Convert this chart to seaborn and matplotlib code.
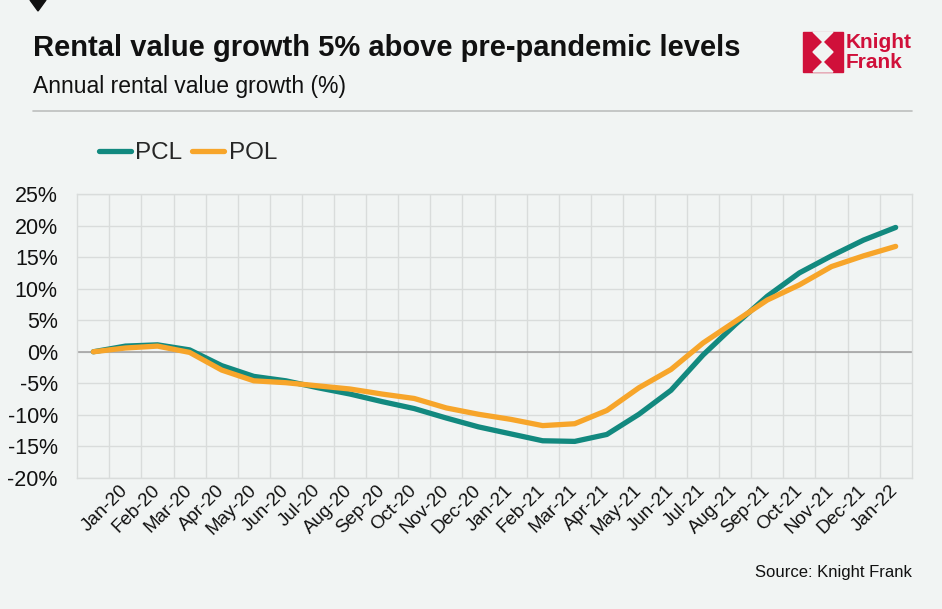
import numpy as np
import pandas as pd
import matplotlib
matplotlib.use("Agg")
import matplotlib.pyplot as plt
import seaborn as sns
from matplotlib.lines import Line2D
from matplotlib.patches import Polygon


# ============================================
# DATA
# ============================================

# x position 0 is an unlabelled base point, labels start at position 1
month_labels = [
    "Jan-20", "Feb-20", "Mar-20", "Apr-20", "May-20", "Jun-20",
    "Jul-20", "Aug-20", "Sep-20", "Oct-20", "Nov-20", "Dec-20",
    "Jan-21", "Feb-21", "Mar-21", "Apr-21", "May-21", "Jun-21",
    "Jul-21", "Aug-21", "Sep-21", "Oct-21", "Nov-21", "Dec-21",
    "Jan-22",
]

pcl = [
    0.0, 0.9, 1.1, 0.3, -2.2, -3.9, -4.6, -5.7, -6.7, -7.9, -9.0, -10.5,
    -11.9, -13.0, -14.1, -14.2, -13.1, -9.9, -6.1, -0.5, 4.3, 8.8, 12.5,
    15.2, 17.7, 19.7,
]

pol = [
    0.0, 0.6, 0.9, -0.1, -2.9, -4.6, -4.9, -5.4, -5.9, -6.7, -7.4, -8.9,
    -9.9, -10.7, -11.7, -11.4, -9.3, -5.7, -2.8, 1.4, 4.8, 8.2, 10.6,
    13.5, 15.2, 16.7,
]

y_ticks = [-20, -15, -10, -5, 0, 5, 10, 15, 20, 25]

df = pd.DataFrame({
    "pos": range(len(pcl)),
    "PCL": pcl,
    "POL": pol,
})


# ============================================
# STYLE
# ============================================

W, H = 942, 609
BG = "#F1F4F3"
GRID = "#D9DCDB"
TEAL = "#12897F"
ORANGE = "#F7A52A"
RED = "#D0103A"

sns.set_theme(style="white")
plt.rcParams["font.family"] = ["Liberation Sans", "DejaVu Sans"]

fig = plt.figure(figsize=(W / 100, H / 100), dpi=100, facecolor=BG)


def fx(px):
    return px / W


def fy(py):
    return 1 - py / H


ax = fig.add_axes([
    fx(77.3),
    fy(478),
    fx(911.7) - fx(77.3),
    fy(194) - fy(478),
])
ax.set_facecolor(BG)


# ============================================
# LINES
# ============================================

sns.lineplot(
    data=df, x="pos", y="PCL", ax=ax,
    color=TEAL, linewidth=3.8, label="PCL",
    solid_capstyle="round",
)

sns.lineplot(
    data=df, x="pos", y="POL", ax=ax,
    color=ORANGE, linewidth=3.8, label="POL",
    solid_capstyle="round",
)

ax.axhline(0, color="#9E9E9E", linewidth=1.1, zorder=1.5)


# ============================================
# AXES
# ============================================

ax.set_xlim(-0.5, len(pcl) - 0.5)
ax.set_ylim(-20, 25)

ax.set_yticks(y_ticks)
ax.set_yticklabels([f"{v}%" for v in y_ticks], fontsize=15.5, color="#111111")

tick_pos = list(range(1, len(month_labels) + 1))
ax.set_xticks(tick_pos)
ax.set_xticklabels(
    month_labels, rotation=45, ha="right", va="center",
    rotation_mode="anchor", fontsize=13.5, color="#111111",
)
ax.set_xticks(np.arange(0.5, len(pcl) - 0.5, 1), minor=True)

ax.tick_params(axis="y", length=0, pad=14)
ax.tick_params(axis="x", which="major", length=0, pad=7)
ax.tick_params(axis="x", which="minor", length=0)

ax.grid(True, axis="y", which="major", color=GRID, linewidth=1)
ax.grid(True, axis="x", which="minor", color=GRID, linewidth=1)
ax.grid(False, axis="x", which="major")
ax.set_axisbelow(True)

for side in ["top", "bottom", "left", "right"]:
    ax.spines[side].set_color(GRID)
    ax.spines[side].set_linewidth(1)

ax.set_xlabel("")
ax.set_ylabel("")

ax.legend(
    loc="center left",
    bbox_to_anchor=(fx(99), fy(153)),
    bbox_transform=fig.transFigure,
    ncol=2, frameon=False, fontsize=17.5,
    handlelength=1.3, handletextpad=0.2, columnspacing=0.4,
    borderpad=0, borderaxespad=0,
)


# ============================================
# HEADER / FOOTER
# ============================================

fig.text(fx(33), fy(48), "Rental value growth 5% above pre-pandemic levels",
         fontsize=21, fontweight="bold", va="center", ha="left", color="#111111")

fig.text(fx(33), fy(86), "Annual rental value growth (%)",
         fontsize=16.5, va="center", ha="left", color="#111111")

fig.add_artist(Line2D([fx(33), fx(912)], [fy(111), fy(111)],
                      color="#BDBFBE", linewidth=1.2))

fig.text(fx(912), fy(573), "Source: Knight Frank",
         fontsize=12, va="center", ha="right", color="#111111")

# small marker at the top left
fig.add_artist(Polygon([[fx(30), fy(0)], [fx(46), fy(0)], [fx(38), fy(11)]],
                       closed=True, color="#111111", transform=fig.transFigure))

# logo
x0, y0, s = 803, 32, 40
fig.add_artist(Polygon([[fx(x0), fy(y0)], [fx(x0 + s), fy(y0)],
                        [fx(x0 + s), fy(y0 + s)], [fx(x0), fy(y0 + s)]],
                       closed=True, color=RED, transform=fig.transFigure))
cx, cy, d = x0 + s / 2, y0 + s / 2, s / 4
fig.add_artist(Polygon([[fx(cx), fy(cy - d)], [fx(cx + d), fy(cy)],
                        [fx(cx), fy(cy + d)], [fx(cx - d), fy(cy)]],
                       closed=True, color=BG, transform=fig.transFigure))
fig.add_artist(Polygon([[fx(cx - d), fy(y0)], [fx(cx + d), fy(y0)], [fx(cx), fy(y0 + d)]],
                       closed=True, color=BG, transform=fig.transFigure))
fig.add_artist(Polygon([[fx(cx - d), fy(y0 + s)], [fx(cx + d), fy(y0 + s)],
                        [fx(cx), fy(y0 + s - d)]],
                       closed=True, color=BG, transform=fig.transFigure))

fig.text(fx(846), fy(42), "Knight", fontsize=15, fontweight="bold",
         color=RED, va="center", ha="left")
fig.text(fx(846), fy(62), "Frank", fontsize=15, fontweight="bold",
         color=RED, va="center", ha="left")

plt.savefig("out.png", dpi=100, facecolor=BG)
